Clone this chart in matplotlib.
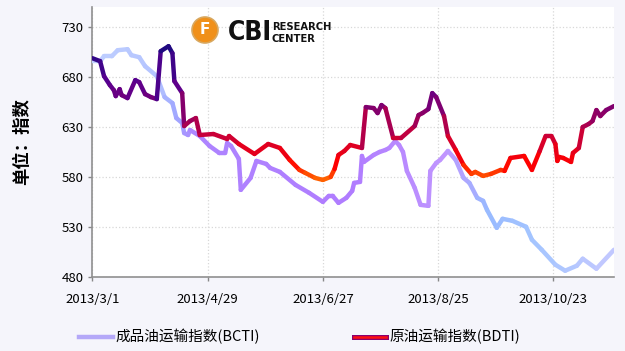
import numpy as np
import matplotlib
matplotlib.use("Agg")
import matplotlib.pyplot as plt
import matplotlib.dates as mdates
from matplotlib.collections import LineCollection
from matplotlib.colors import LinearSegmentedColormap
from matplotlib.lines import Line2D
from matplotlib.patches import Ellipse

plt.rcParams['font.family'] = ['Noto Sans CJK SC', 'DejaVu Sans']

# days after 2013-03-01 and index values
bdti_days = [0, 4, 6, 9, 11, 12, 14, 15, 18, 22, 24, 27, 30, 33, 35, 39, 41, 42, 46, 47,
             50, 53, 55, 62, 69, 70, 75, 83, 90, 96, 101, 106, 109, 114, 118, 122, 124, 126,
             129, 132, 138, 140, 144, 146, 148, 150, 154, 158, 165, 167, 169, 172, 174, 176,
             180, 182, 186, 190, 194, 196, 200, 204, 209, 211, 214, 221, 225, 229, 232, 235,
             237, 238, 239, 241, 245, 246, 249, 251, 254, 256, 258, 260, 263, 267]
bdti_vals = [699, 696, 681, 672, 667, 661, 668, 662, 659, 677, 675, 663, 660, 658, 706, 711, 704, 676, 664, 631,
             636, 639, 622, 623, 618, 621, 613, 603, 613, 609, 597, 587, 584, 579, 577, 580, 588, 602,
             606, 612, 609, 650, 649, 644, 652, 649, 619, 619, 631, 642, 644, 648, 664, 660,
             641, 621, 607, 592, 583, 585, 581, 583, 587, 586, 599, 601, 587, 606, 621, 621,
             613, 596, 600, 599, 595, 604, 609, 630, 633, 636, 647, 641, 647, 651]

bcti_days = [0, 4, 6, 10, 13, 18, 20, 24, 27, 33, 37, 41, 43, 46, 47, 49, 50, 55, 60, 65,
             68, 69, 71, 75, 76, 81, 84, 89, 91, 96, 104, 111, 118, 121, 123, 126, 130, 133,
             134, 137, 138, 139, 144, 147, 150, 152, 155, 157, 159, 161, 165, 168, 172, 173,
             176, 178, 182, 186, 190, 193, 197, 200, 202, 207, 210, 215, 222, 225, 230, 237,
             242, 248, 251, 258, 267]
bcti_vals = [696, 696, 701, 701, 707, 708, 702, 700, 691, 681, 660, 654, 639, 634, 624, 622, 627, 621, 611, 604,
             604, 614, 611, 598, 567, 579, 596, 593, 589, 585, 572, 564, 555, 561, 561, 554, 559, 566,
             574, 575, 601, 595, 602, 605, 607, 609, 616, 612, 605, 586, 569, 552, 551, 586,
             594, 597, 606, 597, 579, 574, 559, 556, 547, 529, 538, 536, 530, 517, 507, 492,
             486, 491, 498, 488, 507]

tick_dates = ['2013-03-01', '2013-04-29', '2013-06-27', '2013-08-25', '2013-10-23']
tick_labels = ['2013/3/1', '2013/4/29', '2013/6/27', '2013/8/25', '2013/10/23']
y_ticks = [480, 530, 580, 630, 680, 730]

start = np.datetime64('2013-03-01')
bdti_x = mdates.date2num(start + np.array(bdti_days).astype('timedelta64[D]'))
bcti_x = mdates.date2num(start + np.array(bcti_days).astype('timedelta64[D]'))

bg = '#f5f5fb'
fig = plt.figure(figsize=(6.25, 3.51), dpi=100, facecolor=bg)
ax = fig.add_axes([0.1477, 0.2117, 0.8347, 0.7675])
ax.set_facecolor('white')

# BCTI: colour changes along time
cm_bcti = LinearSegmentedColormap.from_list('bcti', [
    (0.0, '#c0d0ff'), (0.12, '#b4c4ff'), (0.16, '#a0a8ff'), (0.2, '#ae84ff'),
    (0.5, '#b07cff'), (0.68, '#c096ff'), (0.76, '#98baff'), (0.86, '#a6c6ff'), (1.0, '#c4c8ff')])
pts = np.column_stack([bcti_x, bcti_vals])
segs = np.stack([pts[:-1], pts[1:]], axis=1)
t = (np.array(bcti_days[:-1]) + np.array(bcti_days[1:])) / 2 / 267
lc1 = LineCollection(segs, colors=cm_bcti(t), linewidths=3.2, capstyle='round', joinstyle='round', zorder=3)
ax.add_collection(lc1)

# BDTI: colour follows value
cm_bdti = LinearSegmentedColormap.from_list('bdti', [
    (0.0, '#ff6000'), (0.12, '#ff0000'), (0.33, '#c8003a'), (0.52, '#84006c'),
    (0.72, '#5a0090'), (1.0, '#1c0a80')])
pts = np.column_stack([bdti_x, bdti_vals])
segs = np.stack([pts[:-1], pts[1:]], axis=1)
v = (np.array(bdti_vals[:-1]) + np.array(bdti_vals[1:])) / 2
lc2 = LineCollection(segs, colors=cm_bdti((v - 578) / 133), linewidths=3.2, capstyle='round', joinstyle='round', zorder=4)
ax.add_collection(lc2)

x0 = mdates.date2num(start)
ax.set_xlim(x0, x0 + 267)
ax.set_ylim(480, 750)
ax.set_yticks(y_ticks)
ax.set_xticks(mdates.date2num(np.array(tick_dates, dtype='datetime64[D]')))
ax.set_xticklabels(tick_labels)
ax.tick_params(labelsize=9.5, colors='#888888', labelcolor='black', length=3, width=1)
ax.tick_params(axis='x', pad=9)
ax.grid(True, color='#d8d8d8', linestyle=':', linewidth=0.9)
for s in ['top', 'right']:
    ax.spines[s].set_visible(False)
for s in ['left', 'bottom']:
    ax.spines[s].set_color('#909090')
    ax.spines[s].set_linewidth(1.2)

ax.set_ylabel('单位：指数', fontsize=12.5, fontweight='bold', labelpad=22)

# logo
fig.add_artist(Ellipse((205 / 625, 1 - 30 / 351), 26 / 625, 26 / 351, transform=fig.transFigure,
                       facecolor='#f0901a', edgecolor='#d8a860', linewidth=1.2))
fig.text(205 / 625, 1 - 30 / 351, 'F', fontsize=11, fontweight='bold', family='DejaVu Sans',
         color='white', ha='center', va='center')
fig.text(0.3648, 1 - 33.5 / 351, 'CBI', fontsize=19, fontweight='bold', family='DejaVu Sans',
         fontstretch='condensed', va='center', ha='left', color='#111111')
fig.text(0.4352, 1 - 26.5 / 351, 'RESEARCH', fontsize=7.2, fontweight='bold', family='DejaVu Sans',
         va='center', ha='left', color='#111111')
fig.text(0.4352, 1 - 38.5 / 351, 'CENTER', fontsize=7.2, fontweight='bold', family='DejaVu Sans',
         va='center', ha='left', color='#111111')

# legend
ly = 1 - 337 / 351
fig.add_artist(Line2D([79 / 625, 113 / 625], [ly, ly], transform=fig.transFigure, color='#b4a8f8', lw=3.2))
fig.text(115 / 625, ly, '成品油运输指数(BCTI)', fontsize=10.5, va='center', ha='left')
fig.add_artist(Line2D([354 / 625, 386 / 625], [ly, ly], transform=fig.transFigure, color='#8a0070', lw=3.6))
fig.add_artist(Line2D([354 / 625, 386 / 625], [ly, ly], transform=fig.transFigure, color='#ff1010', lw=1.8))
fig.text(389 / 625, ly, '原油运输指数(BDTI)', fontsize=10.5, va='center', ha='left')

fig.savefig('out.png', dpi=100, facecolor=bg)
